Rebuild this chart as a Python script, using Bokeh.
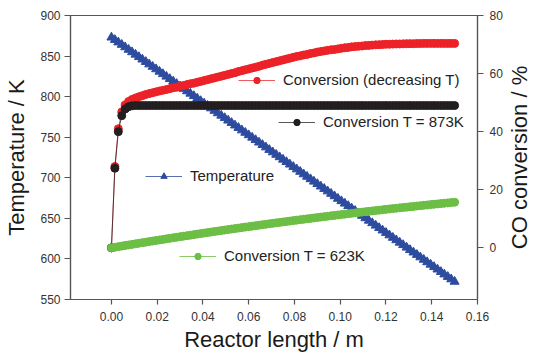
from bokeh.plotting import figure
from bokeh.models import (Range1d, LinearAxis, FixedTicker, Legend, LegendItem,
                          NumeralTickFormatter, Label)
from bokeh.embed import file_html
from bokeh.resources import INLINE

# ---------------- data ----------------
length_m = [
    0.0000, 0.0015, 0.0030, 0.0045, 0.0060, 0.0075, 0.0090, 0.0105, 0.0120, 0.0135,
    0.0150, 0.0165, 0.0180, 0.0195, 0.0210, 0.0225, 0.0240, 0.0255, 0.0270, 0.0285,
    0.0300, 0.0315, 0.0330, 0.0345, 0.0360, 0.0375, 0.0390, 0.0405, 0.0420, 0.0435,
    0.0450, 0.0465, 0.0480, 0.0495, 0.0510, 0.0525, 0.0540, 0.0555, 0.0570, 0.0585,
    0.0600, 0.0615, 0.0630, 0.0645, 0.0660, 0.0675, 0.0690, 0.0705, 0.0720, 0.0735,
    0.0750, 0.0765, 0.0780, 0.0795, 0.0810, 0.0825, 0.0840, 0.0855, 0.0870, 0.0885,
    0.0900, 0.0915, 0.0930, 0.0945, 0.0960, 0.0975, 0.0990, 0.1005, 0.1020, 0.1035,
    0.1050, 0.1065, 0.1080, 0.1095, 0.1110, 0.1125, 0.1140, 0.1155, 0.1170, 0.1185,
    0.1200, 0.1215, 0.1230, 0.1245, 0.1260, 0.1275, 0.1290, 0.1305, 0.1320, 0.1335,
    0.1350, 0.1365, 0.1380, 0.1395, 0.1410, 0.1425, 0.1440, 0.1455, 0.1470, 0.1485,
    0.1500,
]

conv_decreasing_T = [
    0.0, 28.0, 41.0, 46.8, 49.2, 50.4, 51.1, 51.6, 52.0, 52.4,
    52.8, 53.1, 53.4, 53.7, 54.0, 54.25, 54.5, 54.8, 55.1, 55.3,
    55.6, 55.9, 56.2, 56.5, 56.7, 57.0, 57.3, 57.6, 57.9, 58.2,
    58.5, 58.8, 59.1, 59.4, 59.7, 60.0, 60.3, 60.7, 61.0, 61.3,
    61.6, 61.9, 62.2, 62.5, 62.9, 63.2, 63.5, 63.8, 64.1, 64.4,
    64.7, 65.0, 65.3, 65.6, 65.9, 66.1, 66.4, 66.6, 66.9, 67.1,
    67.4, 67.6, 67.8, 68.0, 68.2, 68.3, 68.5, 68.7, 68.9, 69.0,
    69.2, 69.3, 69.4, 69.5, 69.65, 69.7, 69.8, 69.9, 69.95, 70.0,
    70.1, 70.1, 70.15, 70.2, 70.2, 70.25, 70.3, 70.3, 70.3, 70.35,
    70.35, 70.4, 70.4, 70.4, 70.4, 70.4, 70.4, 70.4, 70.4, 70.4,
    70.4,
]

conv_873K = [0.0, 27.4, 40.0, 45.5, 47.8, 48.6, 48.9] + [49.0] * 94

temperature_K = [
    873.0, 870.0, 867.0, 864.0, 861.0, 857.9, 854.9, 851.9, 848.9, 845.9,
    842.9, 839.9, 836.9, 833.9, 830.9, 827.9, 824.8, 821.8, 818.8, 815.8,
    812.8, 809.8, 806.8, 803.8, 800.8, 797.8, 794.7, 791.7, 788.7, 785.7,
    782.7, 779.7, 776.7, 773.7, 770.7, 767.7, 764.6, 761.6, 758.6, 755.6,
    752.6, 749.6, 746.6, 743.6, 740.6, 737.6, 734.5, 731.5, 728.5, 725.5,
    722.5, 719.5, 716.5, 713.5, 710.5, 707.5, 704.4, 701.4, 698.4, 695.4,
    692.4, 689.4, 686.4, 683.4, 680.4, 677.4, 674.3, 671.3, 668.3, 665.3,
    662.3, 659.3, 656.3, 653.3, 650.3, 647.3, 644.2, 641.2, 638.2, 635.2,
    632.2, 629.2, 626.2, 623.2, 620.2, 617.2, 614.1, 611.1, 608.1, 605.1,
    602.1, 599.1, 596.1, 593.1, 590.1, 587.1, 584.0, 581.0, 578.0, 575.0,
    572.0,
]

conv_623K = [
    0.00, 0.20, 0.40, 0.59, 0.79, 0.99, 1.18, 1.37, 1.57, 1.76,
    1.95, 2.14, 2.33, 2.52, 2.71, 2.89, 3.08, 3.26, 3.45, 3.63,
    3.82, 4.00, 4.18, 4.36, 4.54, 4.72, 4.89, 5.07, 5.25, 5.42,
    5.60, 5.77, 5.94, 6.11, 6.29, 6.46, 6.62, 6.79, 6.96, 7.13,
    7.29, 7.46, 7.62, 7.79, 7.95, 8.11, 8.27, 8.43, 8.59, 8.75,
    8.91, 9.06, 9.22, 9.37, 9.53, 9.68, 9.83, 9.98, 10.13, 10.28,
    10.43, 10.58, 10.73, 10.87, 11.02, 11.16, 11.31, 11.45, 11.59, 11.74,
    11.88, 12.02, 12.15, 12.29, 12.43, 12.57, 12.70, 12.84, 12.97, 13.10,
    13.24, 13.37, 13.50, 13.63, 13.76, 13.88, 14.01, 14.14, 14.26, 14.39,
    14.51, 14.63, 14.75, 14.88, 15.00, 15.12, 15.23, 15.35, 15.47, 15.59,
    15.70,
]

x_ticks = [0.00, 0.02, 0.04, 0.06, 0.08, 0.10, 0.12, 0.14, 0.16]
temp_ticks = [550, 600, 650, 700, 750, 800, 850, 900]
conv_ticks = [0, 20, 40, 60, 80]

x_title = "Reactor length / m"
y_title = "Temperature / K"
y2_title = "CO conversion / %"
label_red = "Conversion (decreasing T)"
label_black = "Conversion T = 873K"
label_blue = "Temperature"
label_green = "Conversion T = 623K"

# ---------------- styling ----------------
FONT = "Liberation Sans"
RED = "#EC2228"
BLACK = "#231F20"
BLUE = "#2D4B9F"
GREEN = "#6CBE45"
AXIS = "#555555"

p = figure(width=533, height=354, output_backend="svg", toolbar_location=None,
           x_range=Range1d(-0.0179, 0.16), y_range=Range1d(550, 900),
           min_border_left=70, min_border_right=56, min_border_top=15,
           min_border_bottom=55)
p.extra_y_ranges = {"conv": Range1d(-17.8, 80)}
p.xgrid.visible = False
p.ygrid.visible = False
p.outline_line_color = AXIS
p.outline_line_width = 1.2
p.background_fill_color = "white"
p.border_fill_color = "white"


def style_axis(ax, title):
    ax.axis_label = title
    ax.axis_label_text_font = FONT
    ax.axis_label_text_font_size = "22px"
    ax.axis_label_text_font_style = "normal"
    ax.axis_label_text_color = "#1a1a1a"
    ax.major_label_text_font = FONT
    ax.major_label_text_font_size = "12px"
    ax.major_label_text_color = "#333333"
    ax.axis_line_color = AXIS
    ax.axis_line_width = 1.2
    ax.major_tick_line_color = AXIS
    ax.major_tick_line_width = 1.2
    ax.major_tick_out = 6
    ax.major_tick_in = 0
    ax.minor_tick_line_color = None


xax = p.xaxis[0]
style_axis(xax, x_title)
xax.ticker = FixedTicker(ticks=x_ticks)
xax.formatter = NumeralTickFormatter(format="0.00")
xax.major_tick_out = 5
xax.major_label_standoff = 7
xax.axis_label_standoff = 3

yax = p.yaxis[0]
style_axis(yax, y_title)
yax.ticker = FixedTicker(ticks=temp_ticks)
yax.major_label_standoff = 4
yax.axis_label_standoff = 8

rax = LinearAxis(y_range_name="conv")
style_axis(rax, None)
rax.ticker = FixedTicker(ticks=conv_ticks)
rax.major_label_standoff = 6
p.add_layout(rax, "right")

# right-hand title, reading bottom-to-top, kept in a side panel so it is not clipped
right_title = Label(x=14, y=142, x_units="screen", y_units="screen", text=y2_title,
                    angle=90, angle_units="deg", text_align="center",
                    text_baseline="alphabetic", text_font=FONT,
                    text_font_size="22px", text_color="#1a1a1a")
p.add_layout(right_title, "right")

# ---------------- series ----------------
b_line = p.line(length_m, temperature_K, color=BLUE, line_width=1, line_alpha=0.8)
b_pts = p.scatter(length_m, temperature_K, marker="triangle", size=9,
                  fill_color=BLUE, line_color=BLUE)

r_line = p.line(length_m, conv_decreasing_T, y_range_name="conv",
                color=RED, line_width=1, line_alpha=0.75)
r_pts = p.scatter(length_m, conv_decreasing_T, y_range_name="conv", marker="circle",
                  size=8, fill_color=RED, line_color=RED)

k_line = p.line(length_m, conv_873K, y_range_name="conv",
                color=BLACK, line_width=1, line_alpha=0.75)
k_pts = p.scatter(length_m, conv_873K, y_range_name="conv", marker="circle",
                  size=8, fill_color=BLACK, line_color=BLACK)

g_line = p.line(length_m, conv_623K, y_range_name="conv",
                color=GREEN, line_width=1, line_alpha=0.8)
g_pts = p.scatter(length_m, conv_623K, y_range_name="conv", marker="circle",
                  size=8, fill_color=GREEN, line_color=GREEN)


def add_legend(renderers, label, loc):
    lg = Legend(items=[LegendItem(label=label, renderers=renderers)], location=loc,
                border_line_color=None, background_fill_alpha=0, padding=0, margin=0,
                glyph_width=37, glyph_height=16, label_height=16, label_standoff=8,
                label_text_font=FONT, label_text_font_size="15px",
                label_text_color="#222222", label_text_baseline="middle")
    p.add_layout(lg, "center")


add_legend([r_line, r_pts], label_red, (168, 211))
add_legend([k_line, k_pts], label_black, (208, 169))
add_legend([b_line, b_pts], label_blue, (75, 115))
add_legend([g_line, g_pts], label_green, (109, 35))

open("out.html", "w").write(file_html(p, INLINE))
